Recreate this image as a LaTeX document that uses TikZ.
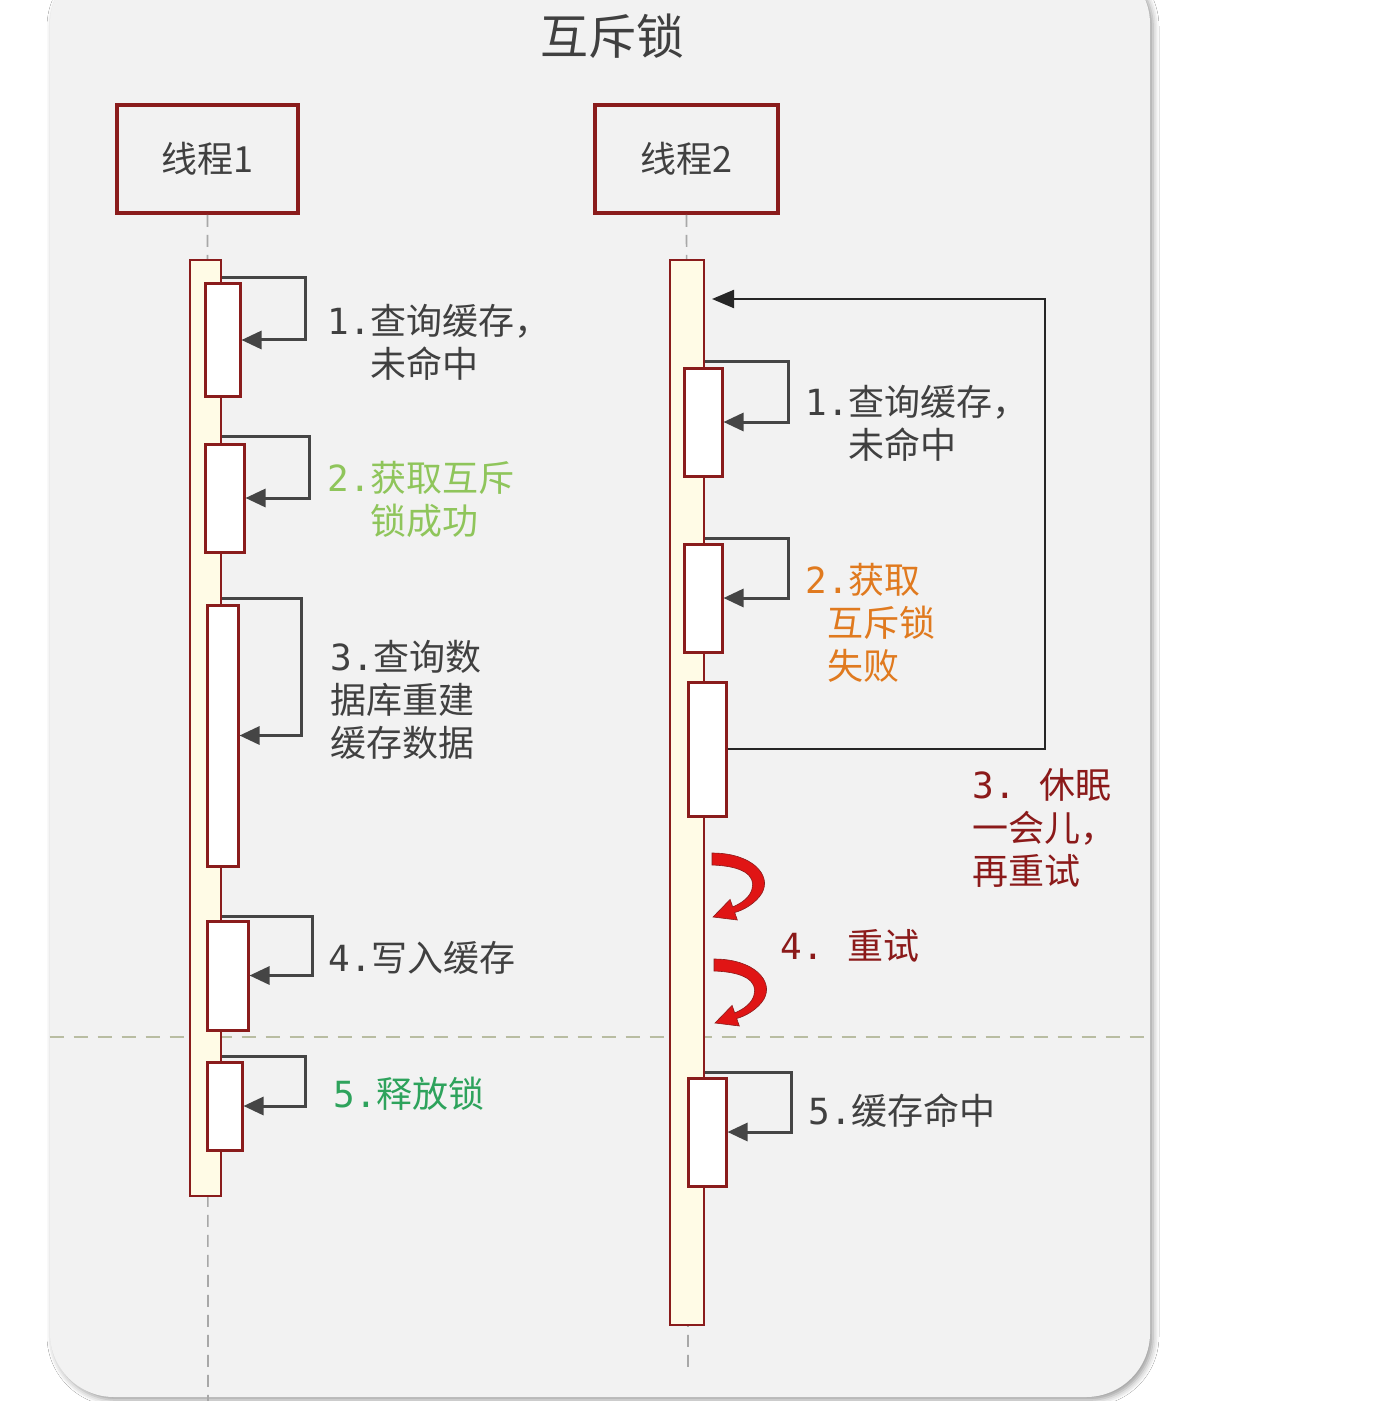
\documentclass[tikz,border=0pt]{standalone}
\usepackage{fontspec}
\setmainfont{Noto Sans CJK SC}
\newfontfamily\monofnt{DejaVu Sans Mono}
\usetikzlibrary{arrows.meta,fit,shadows.blur,calc}
\definecolor{bgpan}{HTML}{F2F2F2}
\definecolor{dred}{HTML}{8A1C1C}
\definecolor{cream}{HTML}{FFFBE6}
\definecolor{loopgray}{HTML}{454545}
\definecolor{txtgray}{HTML}{404040}
\definecolor{lgreen}{HTML}{8FC55B}
\definecolor{dgreen}{HTML}{2EA35C}
\definecolor{orng}{HTML}{E07A1F}
\definecolor{redlbl}{HTML}{8B1A1A}
\definecolor{curlred}{HTML}{E01515}
\definecolor{sepcol}{HTML}{B9BDA2}
\definecolor{lifecol}{HTML}{A8A8A8}
\begin{document}
\begin{tikzpicture}[x=0.5pt,y=-0.5pt,
  panelbox/.style={draw=none,fill=bgpan,rounded corners=32pt,inner sep=0,
    blur shadow={shadow xshift=1.5pt,shadow yshift=-1.5pt,shadow blur radius=3pt,shadow opacity=40}},
  threadbox/.style={draw=dred,line width=1.8pt,fill=bgpan,inner sep=0},
  lifebar/.style={draw=dred,line width=1.3pt,fill=cream,inner sep=0},
  subbox/.style={draw=dred,line width=1.5pt,fill=white,inner sep=0},
  loopar/.style={draw=loopgray,line width=1.5pt,-{Triangle[length=10pt,width=9pt]}},
  retryar/.style={draw=black!85,line width=1.1pt,-{Triangle[length=11pt,width=9pt]}},
  lifeline/.style={draw=lifecol,line width=0.8pt,dash pattern=on 6pt off 4pt},
  sepline/.style={draw=sepcol,line width=0.8pt,dash pattern=on 7pt off 5pt},
  lbl/.style={inner sep=0,align=left,anchor=base west,font=\fontsize{18}{21.5}\selectfont},
  headtxt/.style={font=\fontsize{18}{21}\selectfont,text=txtgray},
  curl/.pic={
    \filldraw[fill=curlred,draw=dred,line width=0.3pt]
      (0,0) .. controls (40,0) and (60,22) .. (50,40)
      .. controls (44,50) and (32,57) .. (22.7,59.5)
      -- (25.3,67) -- (1,64) -- (18.1,46.4) -- (20.7,53.9)
      .. controls (30,50) and (38,44) .. (40,36)
      .. controls (44,22) and (30,13) .. (0,12) -- cycle;
  }]
\useasboundingbox (0,0) rectangle (1378,1401);
\fill[white] (0,0) rectangle (1378,1401);
\begin{scope}
\clip (0,0) rectangle (1378,1401);
\node[panelbox,fit={(50,-40) (1150,1397)}] (panel) {};
\end{scope}

% title
\node[font=\fontsize{24}{28}\selectfont,text=txtgray] (title) at (612,36) {互斥锁};

% thread heads
\node[threadbox,fit={(117,105) (298,213)}] (t1) {};
\node[headtxt] (t1txt) at (t1.center) {线程1};
\node[threadbox,fit={(595,105) (778,213)}] (t2) {};
\node[headtxt] (t2txt) at (t2.center) {线程2};

% lifelines
\coordinate (e1) at (208,1401);
\coordinate (e2) at (688,1368);
\draw[lifeline] (t1.south) -- (e1);
\draw[lifeline] (t2.south) -- (e2);

% separator
\coordinate (sepy) at (0,1037);
\draw[sepline] (panel.west |- sepy) -- (panel.east |- sepy);

% activation bars
\node[lifebar,fit={(190,260) (221,1196)}] (bar1) {};
\node[lifebar,fit={(670,260) (704,1325)}] (bar2) {};

% thread 1 sub boxes
\node[subbox,fit={(205,284) (240,396)}] (s11) {};
\node[subbox,fit={(205,444) (244,552)}] (s12) {};
\node[subbox,fit={(207,605) (238,866)}] (s13) {};
\node[subbox,fit={(207,921) (248,1030)}] (s14) {};
\node[subbox,fit={(207,1062) (242,1150)}] (s15) {};

% thread 2 sub boxes
\node[subbox,fit={(684,368) (722,476)}] (s21) {};
\node[subbox,fit={(684,544) (722,652)}] (s22) {};
\node[subbox,fit={(688,682) (726,816)}] (s23) {};
\node[subbox,fit={(688,1078) (726,1186)}] (s25) {};

% self loops thread 1
\coordinate (c11) at (305,278);
\coordinate (c12) at (309,436);
\coordinate (c13) at (301,598);
\coordinate (c14) at (312,916);
\coordinate (c15) at (305,1056);
\draw[loopar] (bar1.east |- c11) -- (c11) |- (s11.east);
\draw[loopar] (bar1.east |- c12) -- (c12) |- (s12.east);
\draw[loopar] (bar1.east |- c13) -- (c13) |- (s13.east);
\draw[loopar] (bar1.east |- c14) -- (c14) |- (s14.east);
\draw[loopar] (bar1.east |- c15) -- (c15) |- (s15.east);

% self loops thread 2
\coordinate (c21) at (788,361);
\coordinate (c22) at (788,538);
\coordinate (c25) at (791,1072);
\draw[loopar] (bar2.east |- c21) -- (c21) |- (s21.east);
\draw[loopar] (bar2.east |- c22) -- (c22) |- (s22.east);
\draw[loopar] (bar2.east |- c25) -- (c25) |- (s25.east);

% retry loop
\coordinate (c23) at (1045,299);
\coordinate (c23end) at (712,299);
\draw[retryar] (s23.east) -| (c23) -- (c23end);

% curly red arrows
\pic (curl1) at (712,853) {curl};
\pic (curl2) at (714,959) {curl};

% labels thread 1 (anchor = baseline of last line)
\node[lbl,text=txtgray] (l11) at (327,378) {{\monofnt 1.}查询缓存，\\\phantom{\monofnt 1.}未命中};
\node[lbl,text=lgreen] (l12) at (327,534) {{\monofnt 2.}获取互斥\\\phantom{\monofnt 2.}锁成功};
\node[lbl,text=txtgray] (l13) at (330,756) {{\monofnt 3.}查询数\\据库重建\\缓存数据};
\node[lbl,text=txtgray] (l14) at (328,971) {{\monofnt 4.}写入缓存};
\node[lbl,text=dgreen] (l15) at (333,1107) {{\monofnt 5.}释放锁};

% labels thread 2
\node[lbl,text=txtgray] (l21) at (805,458) {{\monofnt 1.}查询缓存，\\\phantom{\monofnt 1.}未命中};
\node[lbl,text=orng] (l22) at (805,679) {{\monofnt 2.}获取\\\phantom{\monofnt 2}互斥锁\\\phantom{\monofnt 2}失败};
\node[lbl,text=redlbl] (l23) at (972,884) {{\monofnt 3.}\hspace{12pt}休眠\\一会儿，\\再重试};
\node[lbl,text=redlbl] (l24) at (780,959) {{\monofnt 4.}\hspace{12pt}重试};
\node[lbl,text=txtgray] (l25) at (808,1124) {{\monofnt 5.}缓存命中};
\end{tikzpicture}
\end{document}
